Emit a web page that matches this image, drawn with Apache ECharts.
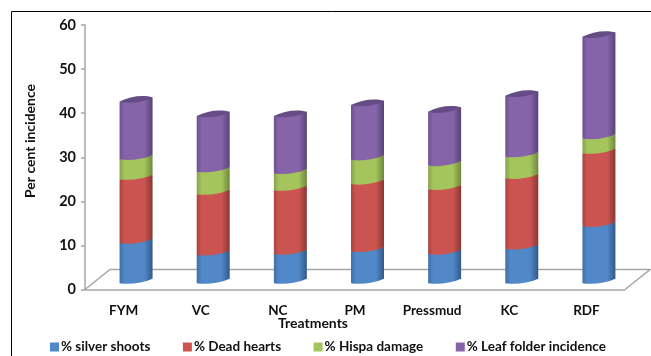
<!DOCTYPE html>
<html>
<head>
<meta charset="utf-8">
<style>
  html, body { margin: 0; padding: 0; background: #fff; }
  #chart { width: 651px; height: 356px; }
</style>
<script src="https://cdn.jsdelivr.net/npm/echarts@6/dist/echarts.min.js"></script>
</head>
<body>
<div id="chart"></div>
<script>
const categories = ["FYM", "VC", "NC", "PM", "Pressmud", "KC", "RDF"]
const silverShoots = [9.1, 6.4, 6.6, 7.2, 6.6, 7.8, 12.9]
const deadHearts = [14.5, 13.8, 14.5, 15.3, 14.7, 16.0, 16.6]
const hispaDamage = [4.5, 5.1, 3.8, 5.5, 5.4, 4.9, 3.3]
const leafFolder = [13.1, 12.6, 13.0, 12.4, 12.2, 13.8, 23.1]

const seriesNames = ["% silver shoots", "% Dead hearts", "% Hispa damage", "% Leaf folder incidence"]
const seriesValues = [silverShoots, deadHearts, hispaDamage, leafFolder]
// edge, middle, dark edge, lid
const palette = [
  ["#3f70a8", "#5088c8", "#33598a", "#3f6da5"],
  ["#a84440", "#cc5450", "#8a3835", "#a84643"],
  ["#86a34a", "#a4c45c", "#6f883d", "#8aa84e"],
  ["#6c5290", "#8664aa", "#584376", "#654c85"]
]
const font = "Lato, 'Noto Sans', sans-serif"
const textColor = "#111"
const axisColor = "#a6a6a6"

// 3D look of the excel chart
const barShift = 12.5
const barWidth = 33
const baseLift = 8.5
const tilt = 2.2
const bulge = 3
const lidBulge = 4

function lowerArc(xa, ya, xb, yb, b) {
  const c1 = xa + (xb - xa) * 0.3
  const c2 = xa + (xb - xa) * 0.7
  const d1 = ya + (yb - ya) * 0.3 + b
  const d2 = ya + (yb - ya) * 0.7 + b
  return "C" + c1 + " " + d1 + " " + c2 + " " + d2 + " " + xb + " " + yb
}

function renderCylinder(colors, isTop) {
  return function (params, api) {
    const i = api.value(0)
    const x = api.coord([i, 0])[0] + barShift
    const yLow = api.coord([i, api.value(1)])[1] - baseLift
    const yHigh = api.coord([i, api.value(2)])[1] - baseLift
    const xl = x - barWidth / 2
    const xr = x + barWidth / 2
    const body = "M" + xl + " " + (yLow + tilt) +
      lowerArc(xl, yLow + tilt, xr, yLow - tilt, bulge) +
      "L" + xr + " " + (yHigh - tilt) +
      "L" + xl + " " + (yHigh + tilt) + "Z"
    const children = [{
      type: "path",
      shape: { pathData: body },
      style: {
        fill: new echarts.graphic.LinearGradient(0, 0, 1, 0, [
          { offset: 0, color: colors[0] },
          { offset: 0.15, color: colors[1] },
          { offset: 0.75, color: colors[1] },
          { offset: 1, color: colors[2] }
        ])
      }
    }]
    if (isTop) {
      const lid = "M" + xl + " " + (yHigh + tilt) +
        lowerArc(xl, yHigh + tilt, xr, yHigh - tilt, -lidBulge) +
        lowerArc(xr, yHigh - tilt, xl, yHigh + tilt, lidBulge) + "Z"
      children.push({ type: "path", shape: { pathData: lid }, style: { fill: colors[3] } })
    }
    return { type: "group", children: children }
  }
}

function renderFloor(params, api) {
  const c = params.coordSys
  const bottom = c.y + c.height
  const pts = [[c.x, bottom], [c.x + 25, bottom - 20], [c.x + c.width + 25, bottom - 20], [c.x + c.width, bottom]]
  return { type: "polyline", shape: { points: pts }, style: { stroke: axisColor, lineWidth: 1.5, fill: null } }
}

const running = categories.map(() => 0)
const cylinders = seriesValues.map((values, s) => {
  const data = values.map((v, i) => {
    const row = [i, running[i], running[i] + v]
    running[i] += v
    return row
  })
  return {
    name: seriesNames[s],
    type: "custom",
    coordinateSystem: "cartesian2d",
    renderItem: renderCylinder(palette[s], s === seriesValues.length - 1),
    itemStyle: { color: palette[s][1] },
    encode: { x: 0, y: 2 },
    data: data,
    z: 3 + s
  }
})

const myChart = echarts.init(document.getElementById("chart"))
myChart.setOption({
  animation: false,
  grid: { left: 85, right: 26, top: 25, height: 264.5 },
  graphic: [
    { type: "line", shape: { x1: 11.5, y1: 11.5, x2: 651, y2: 11.5 }, style: { stroke: "#000", lineWidth: 1 } },
    { type: "line", shape: { x1: 11.5, y1: 11.5, x2: 11.5, y2: 356 }, style: { stroke: "#000", lineWidth: 1 } },
    { type: "text", x: 30, y: 141, rotation: Math.PI / 2, style: { text: "Per cent incidence", font: "bold 14px " + font, fill: textColor, align: "center", verticalAlign: "middle" } },
    { type: "text", x: 313, y: 323, style: { text: "Treatments", font: "bold 14px " + font, fill: textColor, align: "center", verticalAlign: "middle" } }
  ],
  legend: {
    data: seriesNames,
    left: 45,
    top: 335,
    itemWidth: 9,
    itemHeight: 9,
    itemGap: 32.5,
    icon: "rect",
    textStyle: { fontFamily: font, fontWeight: "bold", fontSize: 13.5, color: textColor, padding: [0, 0, 0, -3] }
  },
  xAxis: {
    type: "category",
    data: categories,
    axisLine: { lineStyle: { color: axisColor, width: 1.5 } },
    axisTick: { length: 4, lineStyle: { color: axisColor, width: 1.5 } },
    axisLabel: { interval: 0, fontFamily: font, fontWeight: "bold", fontSize: 13.5, color: textColor, margin: 14 }
  },
  yAxis: {
    type: "value",
    min: 0,
    max: 60,
    interval: 10,
    splitLine: { show: false },
    axisLine: { show: true, lineStyle: { color: axisColor, width: 1.5 } },
    axisTick: { show: true, length: 4, lineStyle: { color: axisColor, width: 1.5 } },
    axisLabel: { fontFamily: font, fontWeight: "bold", fontSize: 14.5, color: textColor, margin: 9 }
  },
  series: [
    { type: "custom", coordinateSystem: "cartesian2d", renderItem: renderFloor, silent: true, data: [[0, 0]], z: 1 }
  ].concat(cylinders)
})
</script>
</body>
</html>
